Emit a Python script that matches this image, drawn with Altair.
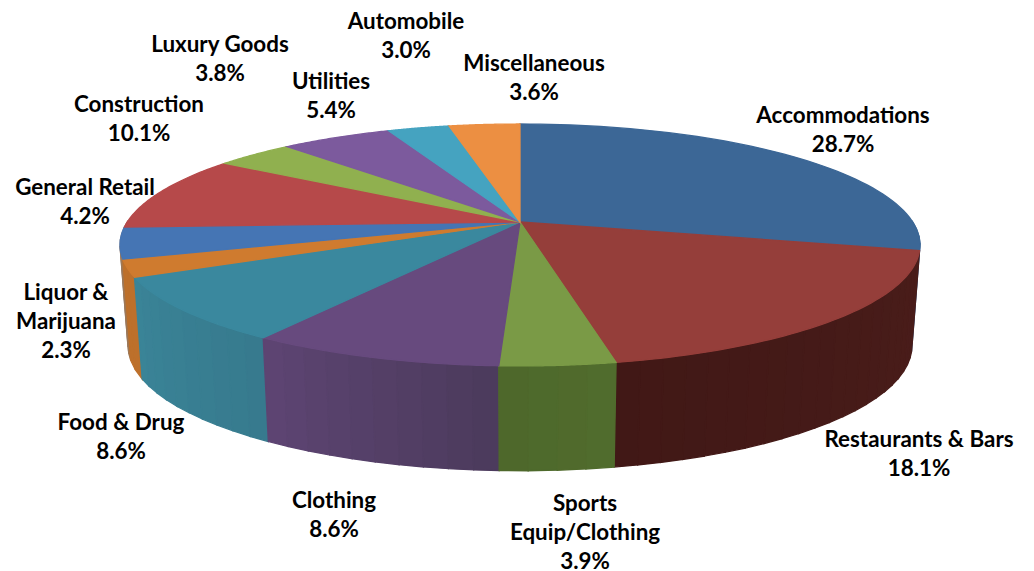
import numpy as np
import pandas as pd
import altair as alt

# ---- values (clockwise from twelve o'clock)
names = ["Accommodations", "Restaurants & Bars", "Sports\nEquip/Clothing", "Clothing", "Food & Drug",
         "Liquor &\nMarijuana", "General Retail", "Construction", "Luxury Goods", "Utilities",
         "Automobile", "Miscellaneous"]
printed = [28.7, 18.1, 3.9, 8.6, 8.6, 2.3, 4.2, 10.1, 3.8, 5.4, 3.0, 3.6]
# slice sizes as measured on the drawing
shares = [28.85, 18.1, 3.9, 8.6, 8.6, 2.3, 4.2, 10.1, 3.8, 5.4, 3.0, 3.45]

# ---- styles
top_colors = ["#3c6796", "#953e3a", "#7a9a46", "#674a7e", "#3a889e", "#cf7b2f",
              "#4575b4", "#b6494a", "#90b04f", "#7c5a9d", "#45a3c0", "#ec8f42"]
wall_start = ["#3c6796", "#4a1d1a", "#516c2d", "#4b3b5c", "#377a8d", "#bd702b",
              "#a0764f", "#8c3735", "#6d8a3b", "#5f4578", "#35809a", "#b86e2a"]
wall_end = ["#3c6796", "#411816", "#4d682b", "#5e4473", "#3a8498", "#bd702b",
            "#8d8a98", "#8c3735", "#6d8a3b", "#5f4578", "#35809a", "#b86e2a"]

# ---- label placement (picture pixels, first text line)
label_x = [843, 919, 585, 334, 121, 66, 85, 139, 220, 331, 406, 534]
label_y = [116, 440, 504, 501, 423, 293, 188, 105, 45, 82, 22, 64]

# ---- perspective of the tilted disc
CX, CY, A, B, K = 520.0, 222.0, 392.7, 116.6, 0.19
BOT_CY, BOT_B, BOT_X = 322.0, 120.5, 0.98


def rim(theta, bottom=False):
    sx, cy = np.sin(theta), np.cos(theta)
    w = 1 + K * cy
    if bottom:
        return CX + BOT_X * A * sx / w, BOT_CY - BOT_B * cy / w
    return CX + A * sx / w, CY - B * cy / w


def rgb(h):
    return np.array([int(h[i:i + 2], 16) for i in (1, 3, 5)], float)


def mix(a, b, t):
    c = rgb(a) * (1 - t) + rgb(b) * t
    return "#%02x%02x%02x" % tuple(int(round(v)) for v in c)


edges = np.cumsum([0] + shares) / sum(shares) * 2 * np.pi

rows = []
gid = 0


def add(xs, ys, colour):
    global gid
    for i, (px, py) in enumerate(zip(xs, ys)):
        rows.append({"g": f"{gid:05d}", "i": i, "x": float(px), "y": float(py), "c": colour})
    gid += 1


# walls: only the front half of the disc, back strips first so the front ones cover them
strips = []
for k in range(len(shares)):
    a0, a1 = max(edges[k], np.pi / 2), min(edges[k + 1], 3 * np.pi / 2)
    if a1 <= a0:
        continue
    n = max(1, int((a1 - a0) / 0.05))
    cuts = np.linspace(a0, a1, n + 1)
    for j in range(n):
        strips.append((cuts[j], cuts[j + 1], mix(wall_start[k], wall_end[k], (j + .5) / n)))
strips.sort(key=lambda s: -abs(0.5 * (s[0] + s[1]) - np.pi))
for t0, t1, colour in strips:
    x0, y0 = rim(t0)
    x1, y1 = rim(t1)
    x2, y2 = rim(t1, True)
    x3, y3 = rim(t0, True)
    add([x0, x1, x2, x3], [y0, y1, y2, y3], colour)

# top face
for k in range(len(shares)):
    arc = np.linspace(edges[k], edges[k + 1], 60)
    xs, ys = rim(arc)
    add(np.r_[CX, xs], np.r_[CY, ys], top_colors[k])

df = pd.DataFrame(rows)

W, H = 1010, 575
xs_scale = alt.Scale(domain=[8, 8 + W], range=[0, W], nice=False, zero=False)
ys_scale = alt.Scale(domain=[8, 8 + H], range=[0, H], nice=False, zero=False)

shapes = alt.Chart(df).mark_line(interpolate="linear-closed", strokeWidth=1.3).encode(
    x=alt.X("x:Q", scale=xs_scale, axis=None),
    y=alt.Y("y:Q", scale=ys_scale, axis=None),
    detail="g:N",
    order="i:Q",
    fill=alt.Fill("c:N", scale=None),
    stroke=alt.Stroke("c:N", scale=None),
)

labels_df = pd.DataFrame({
    "t": [f"{n}\n{v:.1f}%" for n, v in zip(names, printed)],
    "x": label_x, "y": label_y,
})
labels = alt.Chart(labels_df).mark_text(
    font="Lato", fontWeight="bold", fontSize=22.4, color="#000000", lineBreak="\n", lineHeight=29,
    align="center", baseline="middle",
).encode(
    x=alt.X("x:Q", scale=xs_scale, axis=None),
    y=alt.Y("y:Q", scale=ys_scale, axis=None),
    text="t:N",
)

chart = (shapes + labels).properties(
    width=W, height=H, padding=0,
    autosize=alt.AutoSizeParams(type="none"),
).configure_view(stroke=None)

chart.save("out.html", embed_options={"renderer": "svg", "actions": False})
